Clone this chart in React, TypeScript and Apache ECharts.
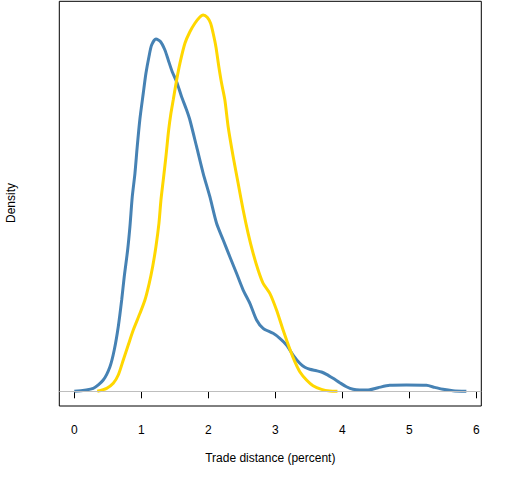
import React, { useEffect, useRef } from "react";
import * as echarts from "echarts";

// Blue density curve (x in percent, density normalised so gold peak = 1)
const blueX = [0.0, 0.283, 0.432, 0.532, 0.596, 0.656, 0.707, 0.745, 0.796, 0.83, 0.865, 0.905, 0.939, 0.979, 1.029, 1.069, 1.114, 1.154, 1.218, 1.288, 1.352, 1.402, 1.461, 1.527, 1.601, 1.676, 1.725, 1.825, 1.923, 2.023, 2.123, 2.222, 2.321, 2.421, 2.52, 2.62, 2.72, 2.818, 2.967, 3.067, 3.167, 3.265, 3.365, 3.44, 3.514, 3.614, 3.689, 3.763, 3.862, 3.962, 4.061, 4.16, 4.26, 4.409, 4.533, 4.707, 4.956, 5.254, 5.378, 5.502, 5.651, 5.851];
const blueY = [0.0, 0.008, 0.03, 0.0654, 0.1098, 0.1717, 0.2426, 0.3045, 0.3755, 0.4374, 0.5171, 0.5793, 0.65, 0.7236, 0.7919, 0.8451, 0.8892, 0.9203, 0.9362, 0.929, 0.907, 0.8804, 0.8493, 0.8228, 0.7829, 0.7475, 0.721, 0.65, 0.5793, 0.5171, 0.4465, 0.4021, 0.3577, 0.3136, 0.2692, 0.2339, 0.1895, 0.1674, 0.1541, 0.1408, 0.123, 0.0965, 0.0744, 0.0638, 0.0585, 0.0547, 0.0513, 0.0452, 0.0345, 0.0229, 0.0122, 0.0053, 0.0035, 0.0043, 0.0096, 0.0159, 0.0167, 0.0159, 0.0106, 0.0053, 0.0016, 0.0];

// Gold density curve
const goldX = [0.343, 0.483, 0.581, 0.656, 0.731, 0.805, 0.88, 0.98, 1.054, 1.118, 1.169, 1.218, 1.263, 1.293, 1.327, 1.367, 1.408, 1.442, 1.476, 1.527, 1.576, 1.651, 1.725, 1.8, 1.864, 1.923, 1.983, 2.034, 2.072, 2.113, 2.157, 2.198, 2.247, 2.296, 2.371, 2.445, 2.52, 2.594, 2.669, 2.743, 2.818, 2.918, 3.018, 3.116, 3.216, 3.291, 3.365, 3.465, 3.563, 3.689, 3.812, 3.927];
const goldY = [0.0, 0.008, 0.0213, 0.0433, 0.0832, 0.123, 0.1629, 0.2073, 0.2426, 0.287, 0.3311, 0.3843, 0.4465, 0.5084, 0.5607, 0.6234, 0.6944, 0.7388, 0.7741, 0.8273, 0.8716, 0.9248, 0.9556, 0.978, 0.9928, 1.0, 0.9939, 0.978, 0.9514, 0.9158, 0.8626, 0.8185, 0.7741, 0.7032, 0.6234, 0.5528, 0.4818, 0.4199, 0.3667, 0.3224, 0.287, 0.2604, 0.2161, 0.1629, 0.1124, 0.0787, 0.0521, 0.03, 0.0149, 0.0053, 0.0008, 0.0];

const xTicks = [0, 1, 2, 3, 4, 5, 6];
const xTitle = "Trade distance (percent)";
const yTitle = "Density";

const pairs = (xs: number[], ys: number[]) => xs.map((x, i) => [x, ys[i]]);

export default function App() {
  const ref = useRef<HTMLDivElement>(null);
  useEffect(() => {
    document.body.style.margin = "0";
    if (!ref.current) return;
    const chart = echarts.init(ref.current, null, { renderer: "svg" });
    const font = "'Liberation Sans', Arial, sans-serif";
    chart.setOption({
      animation: false,
      backgroundColor: "#ffffff",
      grid: {
        left: 59.3,
        top: 1.3,
        right: 30.7,
        bottom: 74,
        show: true,
        borderColor: "#000000",
        borderWidth: 1,
        backgroundColor: "transparent",
      },
      xAxis: {
        type: "value",
        min: -0.224,
        max: 6.074,
        axisLine: { show: false },
        splitLine: { show: false },
        axisTick: {
          show: true,
          customValues: xTicks,
          length: 7,
          lineStyle: { color: "#000000", width: 1 },
        },
        axisLabel: {
          show: true,
          customValues: xTicks,
          margin: 18,
          color: "#000000",
          fontSize: 12,
          fontFamily: font,
        },
      },
      yAxis: {
        type: "value",
        min: -0.039,
        max: 1.0364,
        axisLine: { show: false },
        axisTick: { show: false },
        axisLabel: { show: false },
        splitLine: { show: false },
      },
      graphic: [
        {
          type: "text",
          x: 270.3,
          y: 458,
          style: {
            text: xTitle,
            fill: "#000000",
            font: `12px ${font}`,
            textAlign: "center",
            textVerticalAlign: "middle",
          },
        },
        {
          type: "text",
          x: 11,
          y: 203,
          rotation: Math.PI / 2,
          style: {
            text: yTitle,
            fill: "#000000",
            font: `12px ${font}`,
            textAlign: "center",
            textVerticalAlign: "middle",
          },
        },
      ],
      series: [
        {
          type: "line",
          data: [],
          silent: true,
          markLine: {
            silent: true,
            symbol: ["none", "none"],
            label: { show: false },
            lineStyle: { color: "#BEBEBE", width: 1, type: "solid" },
            data: [{ yAxis: 0 }],
          },
        },
        {
          type: "line",
          data: pairs(blueX, blueY),
          showSymbol: false,
          smooth: 0.25,
          lineStyle: { color: "#4682B4", width: 3 },
          itemStyle: { color: "#4682B4" },
        },
        {
          type: "line",
          data: pairs(goldX, goldY),
          showSymbol: false,
          smooth: 0.25,
          lineStyle: { color: "#FFD700", width: 3 },
          itemStyle: { color: "#FFD700" },
        },
      ],
    });
    return () => chart.dispose();
  }, []);
  return (
    <div
      ref={ref}
      style={{ position: "absolute", left: 0, top: 0, width: 512, height: 480 }}
    />
  );
}
